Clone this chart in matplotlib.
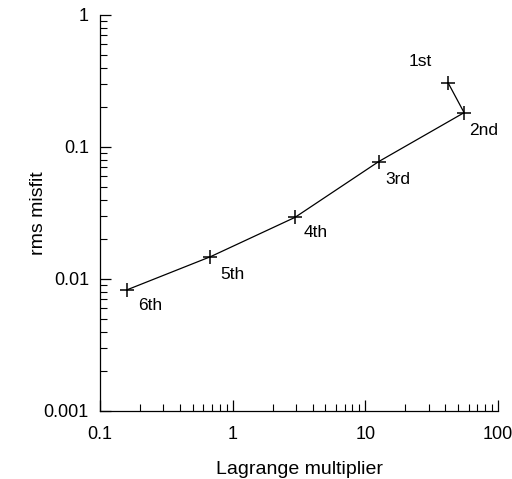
import numpy as np
import matplotlib.pyplot as plt
from matplotlib.ticker import LogLocator, FixedFormatter, FixedLocator

plt.rcParams['font.family'] = ['Liberation Sans', 'DejaVu Sans']

# Values
lagrange = [42.0, 55.5, 12.6, 2.95, 0.68, 0.159]
misfit = [0.307, 0.182, 0.0775, 0.0293, 0.01475, 0.00826]
names = ['1st', '2nd', '3rd', '4th', '5th', '6th']

x_ticks = [0.1, 1, 10, 100]
x_ticklabels = ['0.1', '1', '10', '100']
y_ticks = [0.001, 0.01, 0.1, 1]
y_ticklabels = ['0.001', '0.01', '0.1', '1']

# label offsets (points) relative to markers
offsets = [(-20, 15), (14, -13), (14, -13), (15, -11), (16, -13), (17, -11)]

fig = plt.figure(figsize=(5.12, 4.79), dpi=100)
ax = fig.add_axes([0.1953, 0.142, 0.7774, 0.8267])

ax.plot(lagrange, misfit, 'k-', lw=0.9)
ax.plot(lagrange, misfit, 'k+', ms=10, mew=1.1)

for xv, yv, nm, off in zip(lagrange, misfit, names, offsets):
    ax.annotate(nm, (xv, yv), xytext=off, textcoords='offset points',
                ha='center', va='center', fontsize=12.5)

ax.set_xscale('log')
ax.set_yscale('log')
ax.set_xlim(0.1, 100)
ax.set_ylim(0.001, 1)

ax.xaxis.set_major_locator(FixedLocator(x_ticks))
ax.xaxis.set_major_formatter(FixedFormatter(x_ticklabels))
ax.yaxis.set_major_locator(FixedLocator(y_ticks))
ax.yaxis.set_major_formatter(FixedFormatter(y_ticklabels))
ax.xaxis.set_minor_locator(LogLocator(base=10, subs=np.arange(2, 10)))
ax.yaxis.set_minor_locator(LogLocator(base=10, subs=np.arange(2, 10)))
ax.xaxis.set_minor_formatter(plt.NullFormatter())
ax.yaxis.set_minor_formatter(plt.NullFormatter())

ax.tick_params(which='major', direction='in', length=8, width=0.9, labelsize=13)
ax.tick_params(axis='x', which='major', pad=11)
ax.tick_params(axis='y', which='major', pad=8)
ax.tick_params(which='minor', direction='in', length=5, width=0.8)

for s in ['top', 'right']:
    ax.spines[s].set_visible(False)
for s in ['left', 'bottom']:
    ax.spines[s].set_linewidth(0.9)

ax.set_xlabel('Lagrange multiplier', fontsize=14, labelpad=13)
ax.set_ylabel('rms misfit', fontsize=14)
ax.yaxis.set_label_coords(-0.134, 0.5)

fig.savefig('out.png', dpi=100)
